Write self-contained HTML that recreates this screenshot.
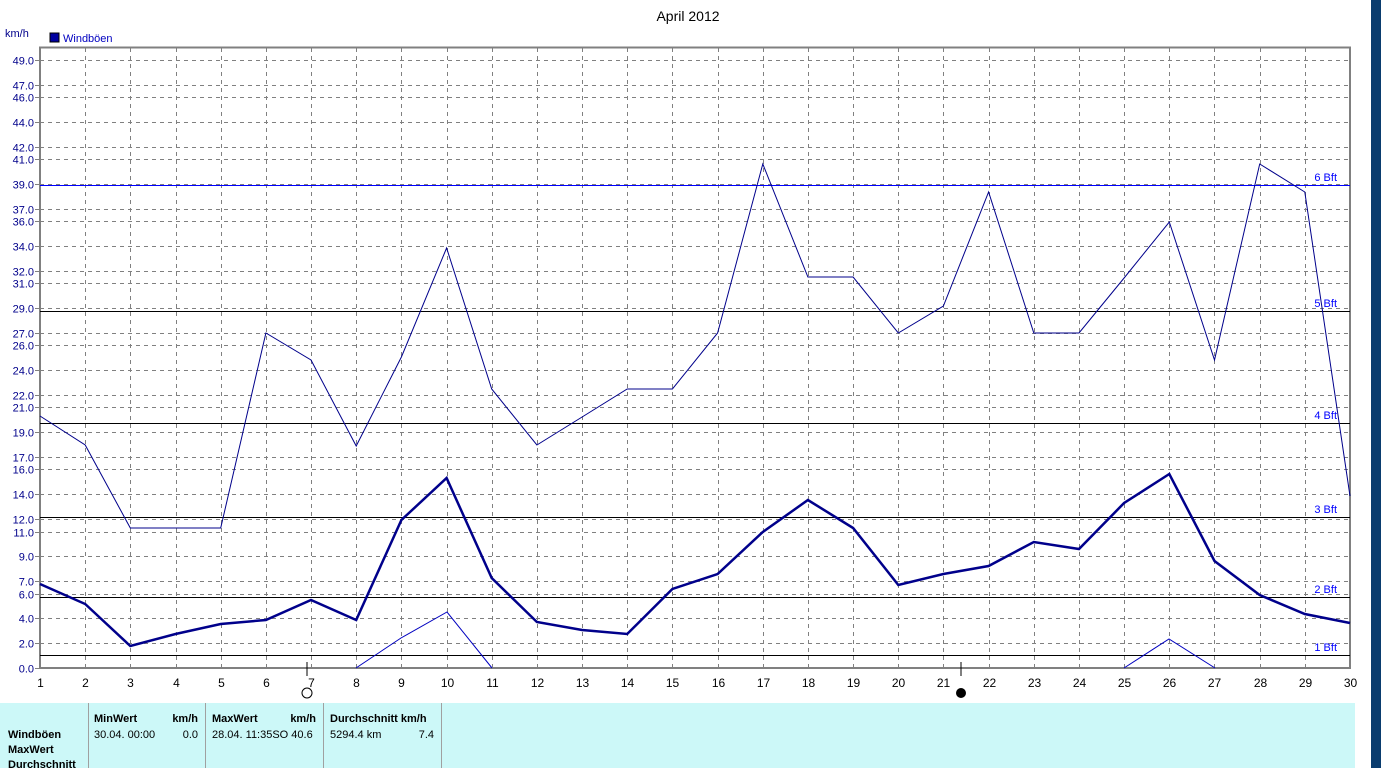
<!DOCTYPE html>
<html><head><meta charset="utf-8"><style>
body{margin:0;width:1381px;height:768px;overflow:hidden;background:#fff;font-family:"Liberation Sans",sans-serif;position:relative}
</style></head><body>
<svg width="1381" height="768" style="position:absolute;left:0;top:0" font-family="Liberation Sans, sans-serif">
<rect x="1371" y="0" width="10" height="768" fill="#0a3c6e"/>
<text x="688" y="21" font-size="14" text-anchor="middle" fill="#000">April 2012</text>
<text x="5" y="37" font-size="11" fill="#00008b">km/h</text>
<rect x="50" y="33" width="9" height="9" fill="#0000a0" stroke="#000" stroke-width="1"/>
<text x="63" y="42" font-size="11" fill="#0000c0">Windböen</text>
<g id="grid"></g>
<g id="lab"></g>
<rect x="40" y="47.5" width="1310" height="620.5" fill="none" stroke="#808080" stroke-width="2"/>
<g stroke="#000" stroke-width="1">
<line x1="40" y1="655.5" x2="1350" y2="655.5"/>
<line x1="40" y1="597.5" x2="1350" y2="597.5"/>
<line x1="40" y1="517.5" x2="1350" y2="517.5"/>
<line x1="40" y1="423.5" x2="1350" y2="423.5"/>
<line x1="40" y1="311.5" x2="1350" y2="311.5"/>
</g>
<line x1="40" y1="185.5" x2="1350" y2="185.5" stroke="#0000ff" stroke-width="1"/>
<g font-size="11" fill="#0000ff" text-anchor="end">
<text x="1337" y="651">1 Bft</text><text x="1337" y="593">2 Bft</text><text x="1337" y="513">3 Bft</text>
<text x="1337" y="419">4 Bft</text><text x="1337" y="307">5 Bft</text><text x="1337" y="181">6 Bft</text>
</g>
<polyline id="mx" fill="none" stroke="#00008b" stroke-width="1"/>
<polyline id="av" fill="none" stroke="#00008b" stroke-width="2.5"/>
<polyline points="356,668 401,638 447,612 492,668" fill="none" stroke="#0000c0" stroke-width="1"/>
<polyline points="1124,668 1169,639 1215,668" fill="none" stroke="#0000c0" stroke-width="1"/>
<line x1="307" y1="662" x2="307" y2="676" stroke="#000"/>
<circle cx="307" cy="693" r="5" fill="none" stroke="#000"/>
<line x1="961" y1="662" x2="961" y2="676" stroke="#000"/>
<circle cx="961" cy="693" r="4.5" fill="#000" stroke="#000"/>
<g id="xl" font-size="12" fill="#000" text-anchor="middle"></g>
<rect x="0" y="703" width="1355" height="65" fill="#ccf8f8"/>
<g stroke="#a0a0a0"><line x1="88.5" y1="703" x2="88.5" y2="768"/><line x1="205.5" y1="703" x2="205.5" y2="768"/><line x1="323.5" y1="703" x2="323.5" y2="768"/><line x1="441.5" y1="703" x2="441.5" y2="768"/></g>
<g font-size="11" fill="#000">
<text x="8" y="738" font-weight="bold">Windböen</text>
<text x="8" y="753" font-weight="bold">MaxWert</text>
<text x="8" y="768" font-weight="bold">Durchschnitt</text>
<text x="94" y="722" font-weight="bold">MinWert</text><text x="198" y="722" font-weight="bold" text-anchor="end">km/h</text>
<text x="94" y="738">30.04.  00:00</text><text x="198" y="738" text-anchor="end">0.0</text>
<text x="212" y="722" font-weight="bold">MaxWert</text><text x="316" y="722" font-weight="bold" text-anchor="end">km/h</text>
<text x="212" y="738">28.04.  11:35SO 40.6</text>
<text x="330" y="722" font-weight="bold">Durchschnitt km/h</text>
<text x="330" y="738">5294.4 km</text><text x="434" y="738" text-anchor="end">7.4</text>
</g>
</svg>
<script>
var ns="http://www.w3.org/2000/svg";
function X(d){return 40+(d-1)*1310/29}
function Y(v){return 668-v*608/49}
var g=document.getElementById("grid"),lab=document.getElementById("lab");
var ys=[49,47,46,44,42,41,39,37,36,34,32,31,29,27,26,24,22,21,19,17,16,14,12,11,9,7,6,4,2,0];
ys.forEach(function(v){var y=Math.round(Y(v))+0.5;
 if(v>0){var l=document.createElementNS(ns,"line");l.setAttribute("x1",40);l.setAttribute("x2",1350);l.setAttribute("y1",y);l.setAttribute("y2",y);l.setAttribute("stroke","#808080");l.setAttribute("stroke-dasharray","4,4");g.appendChild(l);}
 var t=document.createElementNS(ns,"text");t.setAttribute("x",34);t.setAttribute("y",y+4);t.setAttribute("font-size","11");t.setAttribute("fill","#00008b");t.setAttribute("text-anchor","end");t.textContent=v.toFixed(1);lab.appendChild(t);
 var k=document.createElementNS(ns,"line");k.setAttribute("x1",35);k.setAttribute("x2",40);k.setAttribute("y1",y);k.setAttribute("y2",y);k.setAttribute("stroke","#808080");lab.appendChild(k);});
var xl=document.getElementById("xl");
for(var d=1;d<=30;d++){var x=Math.round(X(d))+0.5;
 if(d>1&&d<30){var l=document.createElementNS(ns,"line");l.setAttribute("x1",x);l.setAttribute("x2",x);l.setAttribute("y1",48);l.setAttribute("y2",668);l.setAttribute("stroke","#808080");l.setAttribute("stroke-dasharray","4,4");g.appendChild(l);}
 var t=document.createElementNS(ns,"text");t.setAttribute("x",x);t.setAttribute("y",687);t.textContent=d;xl.appendChild(t);}
var mx=[416,445,528,528,528,333,360,446,357,248,389,445,417,389,389,333,164,277,277,333,306,192,333,333,278,222,360,164,192,496];
var av=[584,604,646,634,624,620,600,620,520,478,578,622,630,634,589,574,532,500,528,585,574,566,542,549,503,474,561,595,614,623];
function pts(a){return a.map(function(y,i){return X(i+1).toFixed(1)+","+y}).join(" ")}
document.getElementById("mx").setAttribute("points",pts(mx));
document.getElementById("av").setAttribute("points",pts(av));
</script>
</body></html>
